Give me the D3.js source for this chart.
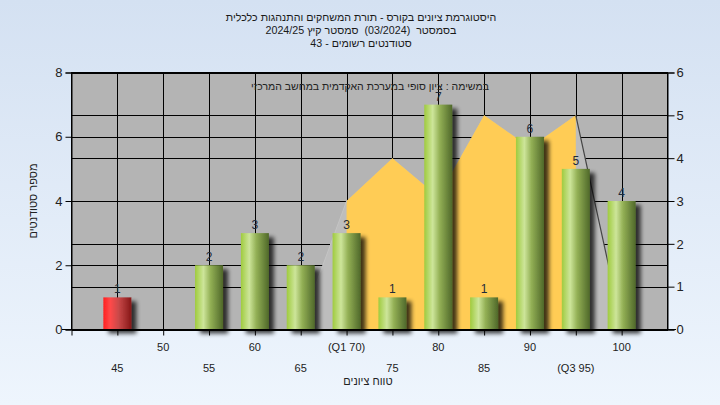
<!DOCTYPE html>
<html><head><meta charset="utf-8">
<script src="https://cdn.jsdelivr.net/npm/d3@7"></script>
<style>
html,body{margin:0;padding:0;}
svg{display:block;}
text{font-family:"Liberation Sans",Arial,sans-serif;}
</style></head>
<body>
<svg id="chart" width="720" height="405"></svg>
<script>
// ---- data ----
const titleLines = [
  "היסטוגרמת ציונים בקורס - תורת המשחקים והתנהגות כלכלית",
  "בסמסטר  (03/2024)  סמסטר קיץ 2024/25",
  "סטודנטים רשומים - 43"
];
const legendText = "במשימה : ציון סופי במערכת האקדמית במחשב המרכזי";
const yTitle = "מספר סטודנטים";
const xTitle = "טווח ציונים";
const categories = [45, 50, 55, 60, 65, 70, 75, 80, 85, 90, 95, 100];
const tickLabels = ["45", "50", "55", "60", "65", "(Q1 70)", "75", "80", "85", "90", "(Q3 95)", "100"];
const counts = [1, 0, 2, 3, 2, 3, 1, 7, 1, 6, 5, 4];
const failBelow = 55;
const curveX = [65, 70, 75, 80, 85, 90, 95, 100];
const curveY = [0.1, 3, 4, 3.1, 5, 4.25, 5, 0.1];
const q1 = 70, q3 = 95;
const leftTicks = [0, 2, 4, 6, 8];
const rightTicks = [0, 1, 2, 3, 4, 5, 6];

// ---- layout ----
const svg = d3.select("#chart");
const W = 720, H = 405;
const L = 71.5, R = 667.5, T = 72.5, B = 329.5;

const defs = svg.append("defs");
const bgG = defs.append("linearGradient").attr("id", "bg").attr("x1", 0).attr("y1", 0).attr("x2", 0).attr("y2", 1);
bgG.append("stop").attr("offset", "0%").attr("stop-color", "#d4e1f2");
bgG.append("stop").attr("offset", "100%").attr("stop-color", "#eef5fd");

function barGrad(id, stops) {
  const g = defs.append("linearGradient").attr("id", id).attr("x1", 0).attr("y1", 0).attr("x2", 1).attr("y2", 0);
  stops.forEach(s => g.append("stop").attr("offset", s[0]).attr("stop-color", s[1]));
}
barGrad("green", [["0%", "#9fcb3e"], ["30%", "#cde59a"], ["55%", "#93b055"], ["100%", "#4f682a"]]);
barGrad("red", [["0%", "#ff2020"], ["25%", "#ff4a4a"], ["55%", "#c84848"], ["100%", "#861818"]]);

const f = defs.append("filter").attr("id", "shadow").attr("x", "-30%").attr("y", "-30%").attr("width", "180%").attr("height", "160%");
f.append("feGaussianBlur").attr("in", "SourceAlpha").attr("stdDeviation", 2).attr("result", "b");
f.append("feOffset").attr("in", "b").attr("dx", 5).attr("dy", 4).attr("result", "o");
f.append("feComponentTransfer").attr("in", "o").attr("result", "s")
  .append("feFuncA").attr("type", "linear").attr("slope", 0.75);
const fm = f.append("feMerge");
fm.append("feMergeNode").attr("in", "s");
fm.append("feMergeNode").attr("in", "SourceGraphic");

svg.append("rect").attr("width", W).attr("height", H).attr("fill", "url(#bg)");

const x = d3.scaleLinear().domain([40, 105]).range([L, R]);
const yL = d3.scaleLinear().domain([0, 8]).range([B, T]);
const yR = d3.scaleLinear().domain([0, 6]).range([B, T]);
const barW = 28;

// plot background
svg.append("rect").attr("x", L).attr("y", T).attr("width", R - L).attr("height", B - T).attr("fill", "#b4b4b4");

// grid
const grid = svg.append("g").attr("stroke", "#000").attr("stroke-width", 1).attr("shape-rendering", "crispEdges");
categories.forEach(c => grid.append("line").attr("x1", Math.round(x(c)) + 0.5).attr("x2", Math.round(x(c)) + 0.5).attr("y1", T).attr("y2", B));
leftTicks.forEach(t => grid.append("line").attr("x1", L).attr("x2", R).attr("y1", Math.round(yL(t)) + 0.5).attr("y2", Math.round(yL(t)) + 0.5));
rightTicks.forEach(t => grid.append("line").attr("x1", L).attr("x2", R).attr("y1", Math.round(yR(t)) + 0.5).attr("y2", Math.round(yR(t)) + 0.5));

// area
const pts = curveX.map((v, i) => [v, curveY[i]]);
const area = d3.area().x(d => x(d[0])).y0(B).y1(d => yR(d[1]));
svg.append("path").datum(pts).attr("d", area).attr("fill", "#bdbdbd");
svg.append("path").datum(pts.filter(d => d[0] >= q1 && d[0] <= q3)).attr("d", area).attr("fill", "#ffcc55");
const line = d3.line().x(d => x(d[0])).y(d => yR(d[1]));
svg.append("path").datum(pts.filter(d => d[0] >= q3)).attr("d", line).attr("fill", "none").attr("stroke", "#444").attr("stroke-width", 1.2);
svg.append("path").datum(pts.filter(d => d[0] <= q1)).attr("d", line).attr("fill", "none").attr("stroke", "#c4c4c4").attr("stroke-width", 1);

// bars
const bars = svg.append("g");
categories.forEach((c, i) => {
  if (counts[i] <= 0) return;
  bars.append("rect")
    .attr("x", x(c) - barW / 2).attr("width", barW)
    .attr("y", yL(counts[i])).attr("height", B - yL(counts[i]))
    .attr("fill", c < failBelow ? "url(#red)" : "url(#green)")
    .attr("filter", "url(#shadow)");
});
categories.forEach((c, i) => {
  if (counts[i] <= 0) return;
  svg.append("text").attr("x", x(c)).attr("y", yL(counts[i]) - 4)
    .attr("text-anchor", "middle").attr("font-size", 12).attr("fill", "#1e2a3a").text(counts[i]);
});

// plot border
svg.append("rect").attr("x", L).attr("y", T).attr("width", R - L).attr("height", B - T)
  .attr("fill", "none").attr("stroke", "#000").attr("shape-rendering", "crispEdges");

// axes
const axL = svg.append("g").attr("transform", `translate(${L},0)`)
  .call(d3.axisLeft(yL).tickValues(leftTicks).tickSize(6).tickPadding(3).tickFormat(d3.format("d")));
const axR = svg.append("g").attr("transform", `translate(${R},0)`)
  .call(d3.axisRight(yR).tickValues(rightTicks).tickSize(7).tickPadding(2).tickFormat(d3.format("d")));
const axB = svg.append("g").attr("transform", `translate(0,${B})`)
  .call(d3.axisBottom(x).tickValues([40].concat(categories)).tickSize(6).tickFormat(""));
[axL, axR, axB].forEach(a => {
  a.select(".domain").attr("stroke", "#000");
  a.selectAll(".tick line").attr("stroke", "#000");
  a.selectAll("text").attr("font-size", 13).attr("fill", "#222").attr("font-family", "Liberation Sans, Arial, sans-serif");
});
axB.select(".domain").remove();
svg.append("line").attr("x1", 62).attr("x2", R + 8).attr("y1", B).attr("y2", B).attr("stroke", "#000").attr("shape-rendering", "crispEdges");

// x tick labels, alternating rows
categories.forEach((c, i) => {
  svg.append("text").attr("x", x(c)).attr("y", i % 2 === 1 ? 351 : 372)
    .attr("text-anchor", "middle").attr("font-size", 11).attr("fill", "#222").text(tickLabels[i]);
});

// titles
titleLines.forEach((t, i) => {
  svg.append("text").attr("x", 361).attr("y", 21 + i * 13).attr("text-anchor", "middle")
    .attr("direction", "rtl").style("white-space", "pre").attr("font-size", 10.7).attr("fill", "#1a1a1a").text(t);
});
svg.append("text").attr("x", 370).attr("y", 90).attr("text-anchor", "middle").attr("direction", "rtl")
  .attr("font-size", 10.5).attr("fill", "#222").text(legendText);
svg.append("text").attr("x", 368).attr("y", 385).attr("text-anchor", "middle").attr("direction", "rtl")
  .attr("font-size", 11).attr("fill", "#222").text(xTitle);
svg.append("text").attr("transform", "translate(37,201) rotate(-90)").attr("text-anchor", "middle").attr("direction", "rtl")
  .attr("font-size", 11).attr("fill", "#222").text(yTitle);
</script>
</body></html>
